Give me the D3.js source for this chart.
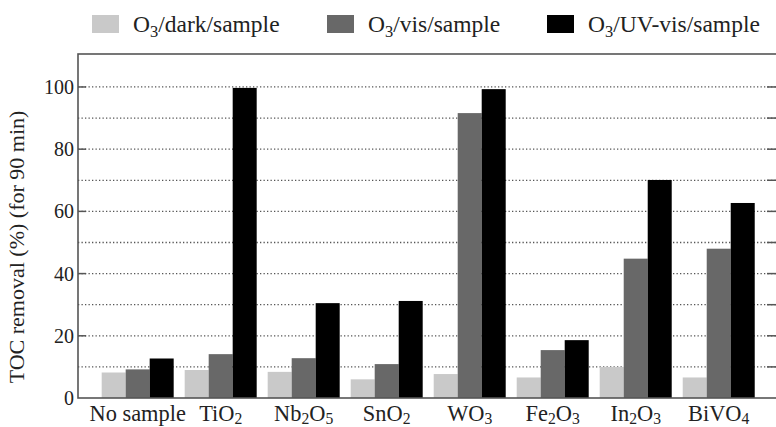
<!DOCTYPE html>
<html>
<head>
<meta charset="utf-8">
<script src="https://cdn.jsdelivr.net/npm/d3@7"></script>
<style>
  body { margin: 0; background: #fff; }
  svg { display: block; font-family: "Liberation Serif", "Times New Roman", serif; }
</style>
</head>
<body>
<svg id="chart"></svg>
<script>
// categories and series (TOC removal %, 90 min)
var samples = ["No sample", "TiO2", "Nb2O5", "SnO2", "WO3", "Fe2O3", "In2O3", "BiVO4"];
var seriesNames = ["O3/dark/sample", "O3/vis/sample", "O3/UV-vis/sample"];
var darkVals = [8.2, 9.0, 8.4, 6.0, 7.7, 6.6, 10.0, 6.6];
var visVals = [9.2, 14.1, 12.8, 10.9, 91.6, 15.4, 44.8, 48.0];
var uvVals = [12.7, 99.7, 30.5, 31.2, 99.3, 18.6, 70.1, 62.7];
var yTicks = [0, 20, 40, 60, 80, 100];
var gridVals = [10, 20, 30, 40, 50, 60, 70, 80, 90, 100];
var colors = ["#c9c9c9", "#686868", "#000000"];

var width = 776, height = 427;
var mLeft = 78, mRight = 777, mTop = 54, mBottom = 398;

var svg = d3.select("#chart").attr("width", width).attr("height", height);

var allVals = [darkVals, visVals, uvVals];
var rows = samples.map(function (s, i) {
  return { name: s, vals: allVals.map(function (a) { return a[i]; }) };
});

var x0 = d3.scaleBand().domain(samples).range([96.2, 760.2])
  .paddingInner(0.1325).paddingOuter(0.066);
var x1 = d3.scaleBand().domain([0, 1, 2]).range([0, x0.bandwidth()]);
var y = d3.scaleLinear().domain([0, 110.6]).range([mBottom, mTop]);

// put digits as subscripts (chemical formulas)
function chem(sel, str, shift) {
  var parts = str.match(/\d+|\D+/g);
  var sub = false;
  parts.forEach(function (p) {
    var isNum = /^\d+$/.test(p);
    var t = sel.append("tspan").text(p);
    if (isNum) {
      t.attr("font-size", "0.7em").attr("dy", shift + "em");
      sub = true;
    } else if (sub) {
      t.attr("dy", (-shift * 0.7) + "em");
      sub = false;
    }
  });
}

// dotted grid
svg.append("g").selectAll("line").data(gridVals).enter().append("line")
  .attr("x1", mLeft).attr("x2", mRight)
  .attr("y1", function (d) { return y(d); }).attr("y2", function (d) { return y(d); })
  .attr("stroke", "#555").attr("stroke-width", 1.3)
  .attr("stroke-dasharray", "1.3,2.2");

// bars
var grp = svg.append("g").selectAll("g").data(rows).enter().append("g")
  .attr("transform", function (d) { return "translate(" + x0(d.name) + ",0)"; });
grp.selectAll("rect").data(function (d) { return d.vals; }).enter().append("rect")
  .attr("x", function (d, i) { return x1(i); })
  .attr("width", x1.bandwidth())
  .attr("y", function (d) { return y(d); })
  .attr("height", function (d) { return mBottom - y(d); })
  .attr("fill", function (d, i) { return colors[i]; });

// ticks: left at labelled values, right at every grid line
svg.append("g").selectAll("line").data(yTicks.slice(1)).enter().append("line")
  .attr("x1", mLeft).attr("x2", mLeft + 8)
  .attr("y1", function (d) { return y(d); }).attr("y2", function (d) { return y(d); })
  .attr("stroke", "#555").attr("stroke-width", 1.5);
svg.append("g").selectAll("line").data(gridVals).enter().append("line")
  .attr("x1", mRight - 10).attr("x2", mRight)
  .attr("y1", function (d) { return y(d); }).attr("y2", function (d) { return y(d); })
  .attr("stroke", "#555").attr("stroke-width", 1.5);

// frame
svg.append("rect").attr("x", mLeft).attr("y", mTop)
  .attr("width", mRight - mLeft).attr("height", mBottom - mTop)
  .attr("fill", "none").attr("stroke", "#555").attr("stroke-width", 1.6);

// y tick labels
svg.append("g").selectAll("text").data(yTicks).enter().append("text")
  .attr("x", mLeft - 4).attr("y", function (d) { return y(d) + 7; })
  .attr("text-anchor", "end").attr("font-size", 20).attr("fill", "#222")
  .text(function (d) { return d; });

// x labels
svg.append("g").selectAll("text").data(samples).enter().append("text")
  .attr("x", function (d) { return x0(d) + x0.bandwidth() / 2; })
  .attr("y", 421)
  .attr("text-anchor", "middle").attr("font-size", 22.4).attr("fill", "#222")
  .each(function (d) { chem(d3.select(this), d, 0.2); });

// y title
svg.append("text")
  .attr("transform", "translate(24,247) rotate(-90)")
  .attr("text-anchor", "middle").attr("font-size", 22).attr("fill", "#222")
  .text("TOC removal (%) (for 90 min)");

// legend
var legX = [92, 327, 547];
var leg = svg.append("g").selectAll("g").data(seriesNames).enter().append("g")
  .attr("transform", function (d, i) { return "translate(" + legX[i] + ",15)"; });
leg.append("rect").attr("width", 27).attr("height", 18)
  .attr("fill", function (d, i) { return colors[i]; });
leg.append("text").attr("x", 41).attr("y", 17)
  .attr("font-size", 23.5).attr("fill", "#222")
  .each(function (d) { chem(d3.select(this), d, 0.28); });
</script>
</body>
</html>
